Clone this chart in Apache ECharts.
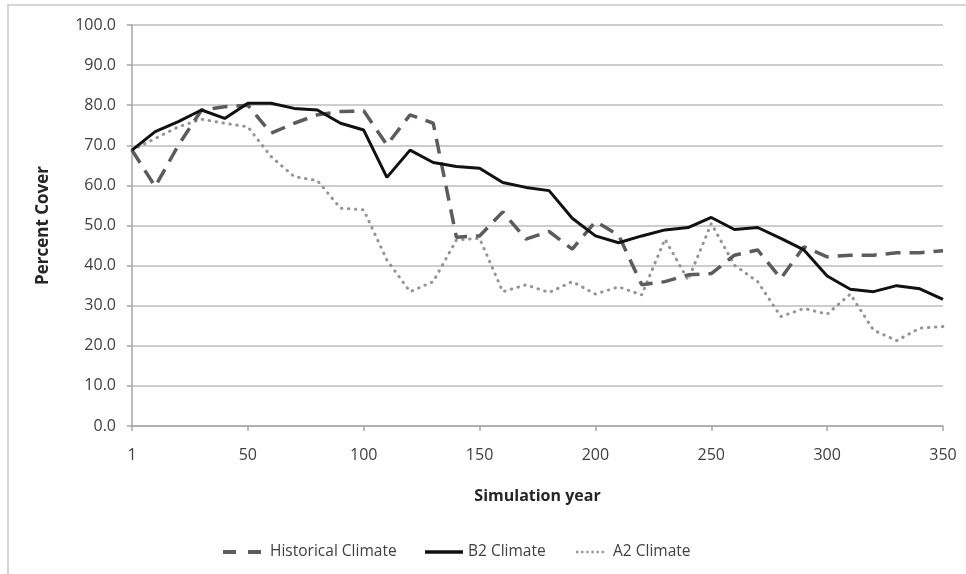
<!DOCTYPE html>
<html>
<head>
<meta charset="utf-8">
<script src="https://cdn.jsdelivr.net/npm/echarts@6/dist/echarts.min.js"></script>
<style>
html,body{margin:0;padding:0;background:#fff;}
#c{width:966px;height:574px;}
</style>
</head>
<body>
<div id="c"></div>
<script>
var years = [1,10,20,30,40,50,60,70,80,90,100,110,120,130,140,150,160,170,180,190,200,210,220,230,240,250,260,270,280,290,300,310,320,330,340,350];
var historical = [68.8,59.7,70.0,78.8,79.6,80.0,73.0,75.5,77.6,78.4,78.6,70.1,77.6,75.5,47.1,47.4,53.4,46.6,48.5,44.1,51.0,47.6,35.2,36.0,37.7,38.0,42.6,43.9,36.8,44.7,42.2,42.6,42.6,43.2,43.2,43.7];
var b2 = [68.8,73.4,75.9,78.8,76.7,80.5,80.5,79.2,78.8,75.5,73.8,62.0,68.8,65.7,64.7,64.3,60.7,59.5,58.7,51.8,47.4,45.7,47.4,48.9,49.5,52.0,49.0,49.5,46.8,43.9,37.4,34.1,33.5,35.0,34.2,31.6];
var a2 = [68.8,71.7,74.6,76.5,75.5,74.6,67.2,62.2,61.2,54.3,53.9,41.4,33.5,36.0,46.4,46.8,33.5,35.2,33.3,36.0,32.9,34.7,32.7,46.6,36.4,50.5,40.1,36.0,27.3,29.3,27.9,32.9,23.9,21.3,24.4,24.8];
var seriesNames = ['Historical Climate','B2 Climate','A2 Climate'];
var xTitle = 'Simulation year';
var yTitle = 'Percent Cover';

var FONT = 'Open Sans';
var C_HIST = '#5c5c5c', C_B2 = '#111111', C_A2 = '#959595';
var legendText = {fontFamily:FONT,fontSize:15.5,color:'#404040'};
function dots(n, p){ var s=''; for(var i=0;i<n;i++){ s+='M'+(i*p)+',0h2.4v2.4h-2.4z '; } return 'path://'+s; }

var chart = echarts.init(document.getElementById('c'), null, {renderer:'canvas'});
chart.setOption({
  animation:false,
  backgroundColor:'#fff',
  textStyle:{fontFamily:FONT},
  graphic:[{type:'rect',shape:{x:8,y:5,width:1200,height:800},style:{fill:'none',stroke:'#c8c8c8',lineWidth:1.5},silent:true}],
  grid:{left:132,right:23,top:25,bottom:148,containLabel:false},
  legend:[
    {data:[{name:seriesNames[0],icon:'path://M0,0h13v4h-13z M25,0h13v4h-13z'}],top:539,left:218,itemWidth:38,itemHeight:4,textStyle:legendText,
      formatter:function(n){return ' '+n;}},
    {data:[{name:seriesNames[1],icon:'path://M0,0h38v3.4h-38z'}],top:539,left:420,itemWidth:38,itemHeight:4,textStyle:legendText,
      formatter:function(n){return n;}},
    {data:[{name:seriesNames[2],icon:dots(6,5.2)}],top:539,left:571,itemWidth:28,itemHeight:4,textStyle:legendText,
      formatter:function(n){return ' '+n;}}
  ],
  xAxis:{
    type:'category',
    data:years,
    boundaryGap:false,
    name:xTitle,
    nameLocation:'middle',
    nameGap:62,
    nameTextStyle:{fontFamily:FONT,fontSize:16,fontWeight:'bold',color:'#262626'},
    axisLine:{lineStyle:{color:'#a6a6a6',width:1.5}},
    axisTick:{show:true,interval:4,length:5,lineStyle:{color:'#a6a6a6',width:1.5}},
    axisLabel:{interval:4,margin:21,fontFamily:FONT,fontSize:16,color:'#404040'},
    splitLine:{show:false}
  },
  yAxis:{
    type:'value',
    min:0,max:100,interval:10,
    name:yTitle,
    nameLocation:'middle',
    nameGap:80,
    nameRotate:90,
    nameTextStyle:{fontFamily:FONT,fontSize:17,fontWeight:'bold',color:'#262626'},
    axisLine:{show:true,lineStyle:{color:'#a6a6a6',width:1.5}},
    axisTick:{show:true,length:5,lineStyle:{color:'#a6a6a6',width:1.5}},
    axisLabel:{margin:16,fontFamily:FONT,fontSize:16,color:'#404040',formatter:function(v){return v.toFixed(1);}},
    splitLine:{show:true,lineStyle:{color:'#bdbdbd',width:1.5}}
  },
  series:[
    {name:seriesNames[0],type:'line',data:historical,symbol:'none',z:3,
      lineStyle:{color:C_HIST,width:3.5,type:[15,9],cap:'butt'},itemStyle:{color:C_HIST}},
    {name:seriesNames[1],type:'line',data:b2,symbol:'none',z:4,
      lineStyle:{color:C_B2,width:3,type:'solid'},itemStyle:{color:C_B2}},
    {name:seriesNames[2],type:'line',data:a2,symbol:'none',z:2,
      lineStyle:{color:C_A2,width:3,type:[0.5,6.5],cap:'round'},itemStyle:{color:C_A2}}
  ]
});
</script>
</body>
</html>
